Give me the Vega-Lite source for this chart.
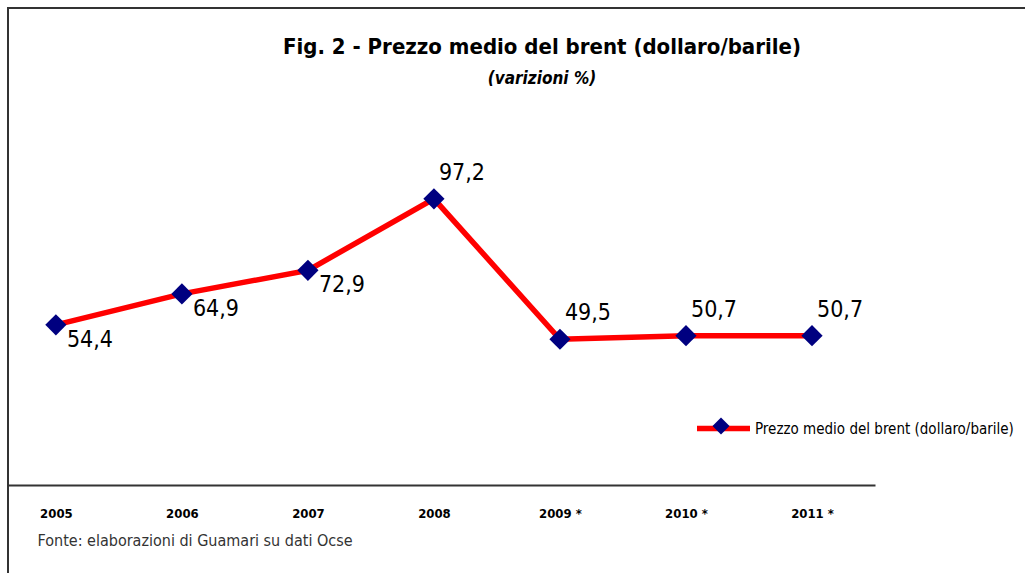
{
  "$schema": "https://vega.github.io/schema/vega-lite/v6.json",
  "width": 1020,
  "height": 570,
  "autosize": {"type": "none"},
  "padding": {"left": 8, "top": 8, "right": 0, "bottom": 0},
  "background": "white",
  "config": {
    "view": {"stroke": "#333333", "strokeWidth": 2},
    "font": "DejaVu Sans Condensed, Liberation Sans Narrow, sans-serif",
    "locale": {"number": {"decimal": ",", "thousands": ".", "grouping": [3], "currency": ["€", ""]}}
  },
  "title": {
    "text": "Fig. 2 - Prezzo medio del brent (dollaro/barile)",
    "subtitle": "(varizioni %)",
    "fontSize": 22,
    "fontWeight": "bold",
    "color": "black",
    "subtitleFontSize": 17,
    "subtitleFontWeight": "bold",
    "subtitleFontStyle": "italic",
    "subtitleColor": "black",
    "subtitlePadding": 12,
    "anchor": "middle",
    "frame": "group",
    "dx": 24,
    "dy": 84
  },
  "data": {
    "values": [
      {"anno": 2005, "prezzo": 54.4, "serie": "Prezzo medio del brent (dollaro/barile)"},
      {"anno": 2006, "prezzo": 64.9, "serie": "Prezzo medio del brent (dollaro/barile)"},
      {"anno": 2007, "prezzo": 72.9, "serie": "Prezzo medio del brent (dollaro/barile)"},
      {"anno": 2008, "prezzo": 97.2, "serie": "Prezzo medio del brent (dollaro/barile)"},
      {"anno": 2009, "prezzo": 49.5, "serie": "Prezzo medio del brent (dollaro/barile)"},
      {"anno": 2010, "prezzo": 50.7, "serie": "Prezzo medio del brent (dollaro/barile)"},
      {"anno": 2011, "prezzo": 50.7, "serie": "Prezzo medio del brent (dollaro/barile)"}
    ]
  },
  "encoding": {
    "x": {
      "field": "anno",
      "type": "quantitative",
      "scale": {"domain": [2004.62, 2011.5], "range": [0, 867], "nice": false, "zero": false},
      "axis": {
        "offset": -93,
        "domainColor": "#333333",
        "domainWidth": 2,
        "ticks": false,
        "grid": false,
        "values": [2005, 2006, 2007, 2008, 2009, 2010, 2011],
        "labelExpr": "datum.value >= 2009 ? datum.value + ' *' : '' + datum.value",
        "labelFontSize": 13,
        "labelFontWeight": "bold",
        "labelColor": "black",
        "labelPadding": 22,
        "labelFlush": false,
        "labelOverlap": false,
        "title": "Fonte: elaborazioni di Guamari su dati Ocse",
        "titleX": 29,
        "titleY": 55,
        "titleAlign": "left",
        "titleBaseline": "middle",
        "titleFontWeight": "normal",
        "titleFontSize": 16,
        "titleColor": "#333333"
      }
    },
    "y": {
      "field": "prezzo",
      "type": "quantitative",
      "scale": {"domain": [0, 162], "range": [477, 0], "nice": false},
      "axis": null
    }
  },
  "layer": [
    {
      "mark": {"type": "line", "strokeWidth": 5.5},
      "encoding": {
        "color": {
          "field": "serie",
          "type": "nominal",
          "scale": {"range": ["#FF0000"]},
          "legend": {
            "orient": "none",
            "legendX": 686,
            "legendY": 391,
            "title": null,
            "padding": 0,
            "symbolType": "stroke",
            "symbolSize": 2809,
            "symbolStrokeWidth": 5.5,
            "labelFontSize": 15,
            "labelColor": "black",
            "labelLimit": 400,
            "labelOffset": 2,
            "zindex": 0
          }
        }
      }
    },
    {
      "mark": {"type": "point", "filled": true, "size": 450, "color": "#000080", "opacity": 1},
      "encoding": {
        "shape": {
          "field": "serie",
          "type": "nominal",
          "scale": {"range": ["diamond"]},
          "legend": {
            "orient": "none",
            "legendX": 703.5,
            "legendY": 408.5,
            "title": null,
            "padding": 0,
            "symbolSize": 289,
            "symbolFillColor": "#000080",
            "symbolStrokeColor": "#000080",
            "symbolOpacity": 1,
            "labelExpr": "''",
            "zindex": 1
          }
        }
      }
    },
    {
      "transform": [{"filter": "datum.anno <= 2007"}],
      "mark": {"type": "text", "align": "left", "baseline": "middle", "dx": 11, "dy": 15, "fontSize": 23, "color": "black"},
      "encoding": {"text": {"field": "prezzo", "type": "quantitative", "format": ".1f"}}
    },
    {
      "transform": [{"filter": "datum.anno >= 2008"}],
      "mark": {"type": "text", "align": "left", "baseline": "middle", "dx": 5, "dy": -26, "fontSize": 23, "color": "black"},
      "encoding": {"text": {"field": "prezzo", "type": "quantitative", "format": ".1f"}}
    }
  ]
}
